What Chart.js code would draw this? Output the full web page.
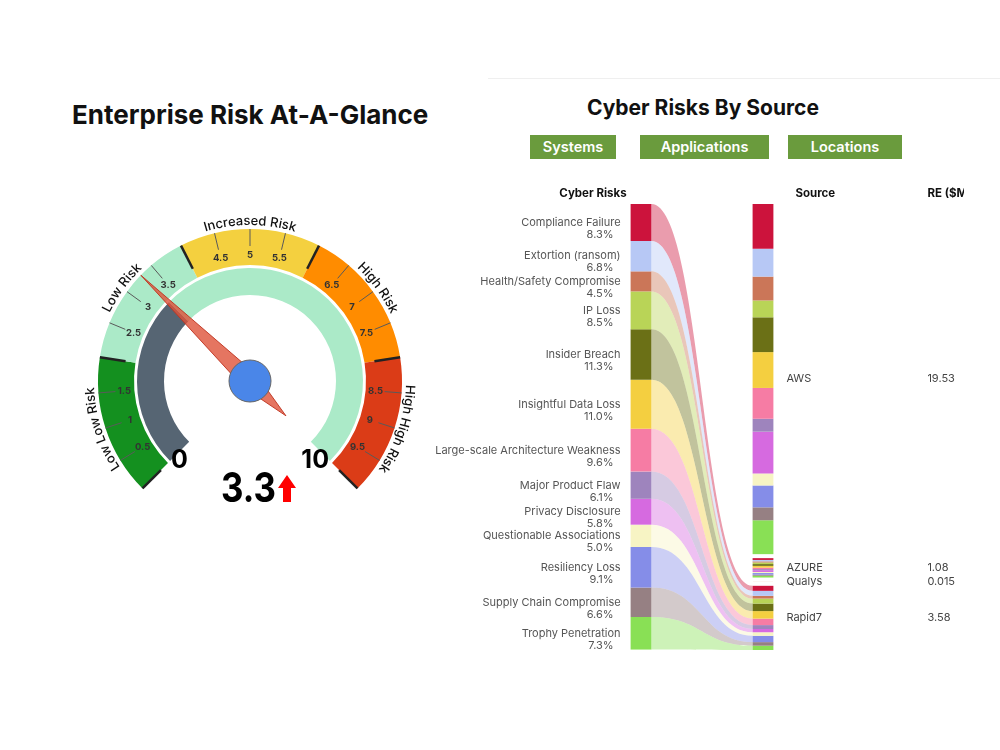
<!DOCTYPE html>
<html>
<head>
<meta charset="utf-8">
<title>Enterprise Risk</title>
<script src="https://cdn.jsdelivr.net/npm/chart.js@4.4.0/dist/chart.umd.min.js"></script>
<style>
  body { margin:0; width:1000px; height:750px; background:#fff; position:relative; overflow:hidden; font-family: Inter, "Open Sans", sans-serif; }
  .title { position:absolute; font-weight:700; color:#111; white-space:nowrap; }
  #gaugeTitle { left:72px; top:99px; font-size:26px; line-height:32px; }
  #sankeyTitle { left:587px; top:95px; font-size:21px; line-height:26px; }
  .btn { position:absolute; top:135px; height:24px; line-height:24px; background:#6a9b3d; color:#fff; font-size:14.5px; font-weight:600; text-align:center; }
  #gaugeWrap { position:absolute; left:50px; top:181px; width:400px; height:400px; }
  #sankeyWrap { position:absolute; left:420px; top:170px; width:544px; height:500px; }
  .panelLine { position:absolute; left:488px; top:78px; width:512px; border-top:1px solid #efefef; }
</style>
</head>
<body>
<div class="panelLine"></div>
<div class="title" id="gaugeTitle">Enterprise Risk At-A-Glance</div>
<div class="title" id="sankeyTitle">Cyber Risks By Source</div>
<div class="btn" style="left:530px;width:86px;">Systems</div>
<div class="btn" style="left:640px;width:129px;">Applications</div>
<div class="btn" style="left:788px;width:114px;">Locations</div>
<div id="gaugeWrap"><canvas id="gauge"></canvas></div>
<div id="sankeyWrap"><canvas id="sankey"></canvas></div>
<script>
// ---- jauge : bandes de risque ----
const bandNames = ['Low Low Risk', 'Low Risk', 'Increased Risk', 'High Risk', 'High High Risk'];
const bandWidths = [2, 2, 2, 2, 2];
const bandColors = ['#14901f', '#abeac8', '#f4d03f', '#ff8c00', '#db3c17'];
const bandEdges = [0, 2, 4, 6, 8, 10];
const tickValues = [0.5, 1, 1.5, 2.5, 3, 3.5, 4.5, 5, 5.5, 6.5, 7, 7.5, 8.5, 9, 9.5];
const gaugeMax = 10;
const riskScore = 3.3;

// ---- sankey : risques cyber -> sources ----
const riskNames = ['Compliance Failure', 'Extortion (ransom)', 'Health/Safety Compromise', 'IP Loss',
  'Insider Breach', 'Insightful Data Loss', 'Large-scale Architecture Weakness', 'Major Product Flaw',
  'Privacy Disclosure', 'Questionable Associations', 'Resiliency Loss', 'Supply Chain Compromise', 'Trophy Penetration'];
const riskShare = [8.3, 6.8, 4.5, 8.5, 11.3, 11.0, 9.6, 6.1, 5.8, 5.0, 9.1, 6.6, 7.3];
const riskColors = ['#cc133c', '#b7c8f5', '#cb7658', '#b9d457', '#6b7016', '#f4cf40', '#f67ca4',
  '#9e84bd', '#d66ae0', '#f7f4c4', '#858de8', '#968083', '#89e055'];
const sourceNames = ['AWS', 'AZURE', 'Qualys', 'Rapid7'];
const sourceRE = [19.53, 1.08, 0.015, 3.58];
const awsRE = [2.50, 1.55, 1.33, 0.94, 1.94, 2.00, 1.72, 0.72, 2.33, 0.67, 1.22, 0.72, 1.89];
const azureRE = [0.10, 0.08, 0.06, 0.09, 0.10, 0.10, 0.08, 0.06, 0.10, 0.06, 0.09, 0.06, 0.10];
const qualysRE = [0.002, 0.001, 0.001, 0.001, 0.001, 0.002, 0.001, 0.001, 0.001, 0.001, 0.001, 0.001, 0.001];
const rapid7RE = [0.28, 0.28, 0.15, 0.28, 0.42, 0.42, 0.36, 0.22, 0.18, 0.20, 0.35, 0.20, 0.24];
const flowTarget = 'Rapid7';

const NODE_GAP = 0.9;

function withAlpha(hex, a) {
  const n = parseInt(hex.slice(1), 16);
  return `rgba(${n >> 16}, ${(n >> 8) & 255}, ${n & 255}, ${a})`;
}

// decorations de la jauge (graduations, libellés, aiguille)
const gaugeDecor = {
  id: 'gaugeDecor',
  afterDatasetsDraw(chart) {
    const ctx = chart.ctx;
    const arcs = chart.getDatasetMeta(0).data;
    const cx = arcs[0].x, cy = arcs[0].y, R = arcs[0].outerRadius;
    const a0 = arcs[0].startAngle, a1 = arcs[bandWidths.length - 1].endAngle;
    const ang = v => a0 + (a1 - a0) * v / gaugeMax;
    const pt = (v, r) => [cx + r * Math.cos(ang(v)), cy + r * Math.sin(ang(v))];
    ctx.save();

    // graduations fines
    ctx.strokeStyle = '#5a5a5a';
    ctx.lineWidth = 1;
    tickValues.forEach(v => {
      const p = pt(v, R), q = pt(v, R - 17);
      ctx.beginPath(); ctx.moveTo(p[0], p[1]); ctx.lineTo(q[0], q[1]); ctx.stroke();
    });
    ctx.font = '700 9.5px Inter';
    ctx.fillStyle = '#333';
    ctx.textAlign = 'center';
    ctx.textBaseline = 'middle';
    tickValues.forEach(v => {
      const p = pt(v, R - 26);
      ctx.fillText(String(v), p[0], p[1]);
    });

    // limites des bandes
    ctx.strokeStyle = '#222';
    ctx.lineWidth = 2.5;
    bandEdges.forEach(v => {
      const p = pt(v, R), q = pt(v, R - 26);
      ctx.beginPath(); ctx.moveTo(p[0], p[1]); ctx.lineTo(q[0], q[1]); ctx.stroke();
    });

    // noms des bandes, texte courbé
    ctx.font = '500 13px Inter';
    ctx.fillStyle = '#111';
    ctx.textBaseline = 'alphabetic';
    const rText = R + 4;
    let start = 0;
    bandNames.forEach((name, i) => {
      const mid = ang(start + bandWidths[i] / 2);
      start += bandWidths[i];
      const total = ctx.measureText(name).width;
      let a = mid - total / 2 / rText;
      for (const ch of name) {
        const w = ctx.measureText(ch).width;
        const ac = a + (w / 2) / rText;
        ctx.save();
        ctx.translate(cx + rText * Math.cos(ac), cy + rText * Math.sin(ac));
        ctx.rotate(ac + Math.PI / 2);
        ctx.textAlign = 'center';
        ctx.fillText(ch, 0, 0);
        ctx.restore();
        a += w / rText;
      }
    });

    // aiguille
    const na = ang(riskScore);
    const tip = pt(riskScore, R);
    const px = -Math.sin(na), py = Math.cos(na);
    ctx.beginPath();
    ctx.moveTo(tip[0], tip[1]);
    ctx.lineTo(cx + px * 9, cy + py * 9);
    ctx.lineTo(cx - 50 * Math.cos(na), cy - 50 * Math.sin(na));
    ctx.lineTo(cx - px * 9, cy - py * 9);
    ctx.closePath();
    ctx.fillStyle = 'rgba(222, 82, 58, 0.8)';
    ctx.fill();
    ctx.strokeStyle = 'rgba(190, 50, 30, 0.9)';
    ctx.lineWidth = 1;
    ctx.stroke();

    ctx.beginPath();
    ctx.arc(cx, cy, 21, 0, Math.PI * 2);
    ctx.fillStyle = '#4a86e8';
    ctx.fill();
    ctx.strokeStyle = '#666';
    ctx.stroke();

    // bornes 0 et 10
    ctx.font = '700 25px Inter';
    ctx.fillStyle = '#000';
    ctx.textBaseline = 'middle';
    ctx.textAlign = 'left';
    ctx.fillText('0', cx - 79, cy + 79);
    ctx.textAlign = 'right';
    ctx.fillText(String(gaugeMax), cx + 79, cy + 79);

    // valeur
    ctx.save();
    ctx.translate(cx + 26, cy + 121);
    ctx.scale(0.85, 1);
    ctx.font = '700 41px Inter';
    ctx.textBaseline = 'alphabetic';
    ctx.textAlign = 'right';
    ctx.fillText(String(riskScore), 0, 0);
    ctx.restore();
    ctx.fillStyle = '#ff0000';
    ctx.beginPath();
    ctx.moveTo(cx + 37, cy + 94);
    ctx.lineTo(cx + 46, cy + 107);
    ctx.lineTo(cx + 41, cy + 107);
    ctx.lineTo(cx + 41, cy + 121);
    ctx.lineTo(cx + 33, cy + 121);
    ctx.lineTo(cx + 33, cy + 107);
    ctx.lineTo(cx + 28, cy + 107);
    ctx.closePath();
    ctx.fill();
    ctx.restore();
  }
};

const gaugeFiller = gaugeMax * 90 / 270; // partie invisible du cercle

new Chart(document.getElementById('gauge'), {
  type: 'doughnut',
  data: {
    labels: [...bandNames, ''],
    datasets: [
      { data: [...bandWidths, gaugeFiller], backgroundColor: [...bandColors, 'rgba(0,0,0,0)'], weight: 36 },
      { data: [gaugeMax + gaugeFiller], backgroundColor: ['rgba(0,0,0,0)'], weight: 3 },
      { data: [riskScore, gaugeMax - riskScore, gaugeFiller], backgroundColor: ['#566573', '#abeac8', 'rgba(0,0,0,0)'], weight: 27 }
    ]
  },
  options: {
    responsive: true,
    maintainAspectRatio: false,
    animation: false,
    events: [],
    rotation: -135,
    circumference: 360,
    cutout: 86,
    layout: { padding: 48 },
    elements: { arc: { borderWidth: 0, hoverBorderWidth: 0, offset: 0, hoverOffset: 0 } },
    plugins: { legend: { display: false }, tooltip: { enabled: false } }
  },
  plugins: [gaugeDecor]
});

// ---- construction des barres du sankey ----
const datasets = [];
let acc = 0;
riskNames.forEach((name, i) => {
  datasets.push({ label: name, data: [[acc, acc + riskShare[i]], null], backgroundColor: riskColors[i] });
  acc += riskShare[i];
});
const sourceRows = [awsRE, azureRE, qualysRE, rapid7RE];
const reTotal = sourceRE.reduce((a, b) => a + b, 0);
const k = (100 - NODE_GAP * (sourceNames.length - 1)) / reTotal;
const sourceSpans = [];
let pos = 0;
sourceRows.forEach((row, s) => {
  const s0 = pos;
  row.forEach((v, i) => {
    datasets.push({ label: sourceNames[s] + ' / ' + riskNames[i], data: [null, [pos, pos + v * k]], backgroundColor: riskColors[i] });
    pos += v * k;
  });
  sourceSpans.push([s0, pos]);
  pos += NODE_GAP;
});

const sankeyDecor = {
  id: 'sankeyDecor',
  beforeDatasetsDraw(chart) {
    const ctx = chart.ctx;
    const n = riskNames.length;
    const t = sourceNames.indexOf(flowTarget);
    ctx.save();
    riskNames.forEach((_, i) => {
      const l = chart.getDatasetMeta(i).data[0];
      const r = chart.getDatasetMeta(n + t * n + i).data[1];
      const x0 = l.x + l.width / 2, x1 = r.x - r.width / 2, xm = (x0 + x1) / 2;
      const lt = Math.min(l.y, l.base), lb = Math.max(l.y, l.base);
      const rt = Math.min(r.y, r.base), rb = Math.max(r.y, r.base);
      ctx.beginPath();
      ctx.moveTo(x0, lt);
      ctx.bezierCurveTo(xm, lt, xm, rt, x1, rt);
      ctx.lineTo(x1, rb);
      ctx.bezierCurveTo(xm, rb, xm, lb, x0, lb);
      ctx.closePath();
      ctx.fillStyle = withAlpha(riskColors[i], 0.42);
      ctx.fill();
    });
    ctx.restore();
  },
  afterDatasetsDraw(chart) {
    const ctx = chart.ctx;
    const y = chart.scales.y;
    const first = chart.getDatasetMeta(0).data[0];
    const right = chart.getDatasetMeta(riskNames.length).data[1];
    const leftEdge = first.x - first.width / 2;
    const rightEdge = right.x + right.width / 2;
    ctx.save();
    ctx.textBaseline = 'middle';
    ctx.font = '700 11.5px Inter';
    ctx.fillStyle = '#111';
    ctx.textAlign = 'right';
    ctx.fillText('Cyber Risks', leftEdge - 4, chart.chartArea.top - 10);
    ctx.textAlign = 'left';
    ctx.fillText('Source', rightEdge + 22, chart.chartArea.top - 10);
    ctx.fillText('RE ($M)', rightEdge + 154, chart.chartArea.top - 10);

    ctx.font = '400 11px Inter';
    ctx.fillStyle = '#555';
    ctx.textAlign = 'right';
    riskNames.forEach((name, i) => {
      const el = chart.getDatasetMeta(i).data[0];
      const c = (el.y + el.base) / 2;
      ctx.fillText(name, leftEdge - 10, c);
      ctx.fillText(riskShare[i].toFixed(1) + '%', leftEdge - 17, c + 12);
    });
    ctx.fillStyle = '#444';
    ctx.textAlign = 'left';
    sourceNames.forEach((name, s) => {
      const c = y.getPixelForValue((sourceSpans[s][0] + sourceSpans[s][1]) / 2);
      ctx.fillText(name, rightEdge + 13, c);
      ctx.fillText(String(sourceRE[s]), rightEdge + 154, c);
    });
    ctx.restore();
  }
};

new Chart(document.getElementById('sankey'), {
  type: 'bar',
  data: { labels: ['Cyber Risks', 'Source'], datasets: datasets },
  options: {
    responsive: true,
    maintainAspectRatio: false,
    animation: false,
    events: [],
    layout: { padding: { left: 160, right: 140, top: 34, bottom: 20 } },
    datasets: { bar: { grouped: false, barPercentage: 26 / 122, borderWidth: 0, borderSkipped: false } },
    scales: {
      x: { display: false },
      y: { display: false, min: 0, max: 100, reverse: true }
    },
    plugins: { legend: { display: false }, tooltip: { enabled: false } }
  },
  plugins: [sankeyDecor]
});
</script>
</body>
</html>
